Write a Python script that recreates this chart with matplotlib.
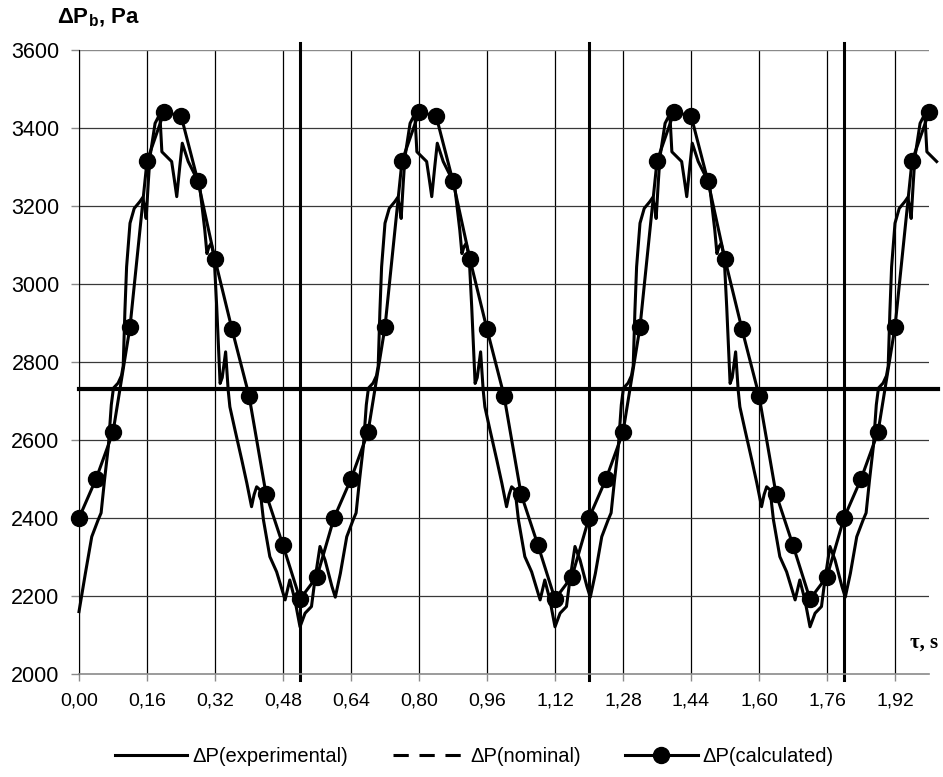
import numpy as np
import matplotlib
matplotlib.use('Agg')
import matplotlib.pyplot as plt
from matplotlib.lines import Line2D

plt.rcParams['font.family'] = ['Liberation Sans', 'DejaVu Sans']
plt.rcParams['mathtext.fontset'] = 'custom'
plt.rcParams['mathtext.bf'] = 'Liberation Sans:bold'
plt.rcParams['mathtext.rm'] = 'Liberation Sans'

# -- calculated pressure drop, one point every 0.04 s
calc_t = np.round(np.arange(51) * 0.04, 2)
calc_p = [2400, 2500, 2620, 2890, 3315, 3440, 3432, 3263, 3063, 2884, 2714, 2462, 2330, 2192, 2250,
          2400, 2500, 2620, 2890, 3315, 3440, 3432, 3263, 3063, 2884, 2714, 2462, 2330, 2192, 2250,
          2400, 2500, 2620, 2890, 3315, 3440, 3432, 3263, 3063, 2884, 2714, 2462, 2330, 2192, 2250,
          2400, 2500, 2620, 2890, 3315, 3440]

# -- experimental trace
exp_t = [0.000,
         0.015, 0.030, 0.045, 0.052, 0.060, 0.069, 0.076, 0.081, 0.092, 0.100, 0.104, 0.108, 0.112, 0.120, 0.130,
         0.143, 0.150, 0.154, 0.158, 0.163, 0.167, 0.179, 0.187, 0.191, 0.195, 0.206, 0.218, 0.224, 0.230, 0.237,
         0.243, 0.257, 0.273, 0.285, 0.296, 0.301, 0.306, 0.311, 0.318, 0.324, 0.332, 0.337, 0.345, 0.351, 0.355,
         0.367, 0.383, 0.395, 0.406, 0.412, 0.418, 0.426, 0.434, 0.449, 0.465, 0.485, 0.496, 0.508, 0.520, 0.532,
         0.547, 0.555, 0.567, 0.579, 0.595, 0.603,
         0.615, 0.630, 0.645, 0.652, 0.660, 0.669, 0.676, 0.681, 0.692, 0.700, 0.704, 0.708, 0.712, 0.720, 0.730,
         0.743, 0.750, 0.754, 0.758, 0.763, 0.767, 0.779, 0.787, 0.791, 0.795, 0.806, 0.818, 0.824, 0.830, 0.837,
         0.843, 0.857, 0.873, 0.885, 0.896, 0.901, 0.906, 0.911, 0.918, 0.924, 0.932, 0.937, 0.945, 0.951, 0.955,
         0.967, 0.983, 0.995, 1.006, 1.012, 1.018, 1.026, 1.034, 1.049, 1.065, 1.085, 1.096, 1.108, 1.120, 1.132,
         1.147, 1.155, 1.167, 1.179, 1.195, 1.203,
         1.215, 1.230, 1.245, 1.252, 1.260, 1.269, 1.276, 1.281, 1.292, 1.300, 1.304, 1.308, 1.312, 1.320, 1.330,
         1.343, 1.350, 1.354, 1.358, 1.363, 1.367, 1.379, 1.387, 1.391, 1.395, 1.406, 1.418, 1.424, 1.430, 1.437,
         1.443, 1.457, 1.473, 1.485, 1.496, 1.501, 1.506, 1.511, 1.518, 1.524, 1.532, 1.537, 1.545, 1.551, 1.555,
         1.567, 1.583, 1.595, 1.606, 1.612, 1.618, 1.626, 1.634, 1.649, 1.665, 1.685, 1.696, 1.708, 1.720, 1.732,
         1.747, 1.755, 1.767, 1.779, 1.795, 1.803,
         1.815, 1.830, 1.845, 1.852, 1.860, 1.869, 1.876, 1.881, 1.892, 1.900, 1.904, 1.908, 1.912, 1.920, 1.930,
         1.943, 1.950, 1.954, 1.958, 1.963, 1.967, 1.979, 1.987, 1.991, 1.995, 2.006, 2.018]
exp_p = [2160,
         2258, 2352, 2395, 2413, 2497, 2583, 2690, 2733, 2746, 2765, 2790, 2930, 3044, 3156, 3194,
         3211, 3222, 3200, 3168, 3260, 3326, 3412, 3429, 3420, 3339, 3327, 3314, 3270, 3224, 3300,
         3361, 3314, 3279, 3241, 3138, 3078, 3096, 3104, 3070, 2942, 2745, 2760, 2826, 2728, 2685,
         2626, 2549, 2489, 2429, 2460, 2480, 2472, 2395, 2301, 2262, 2190, 2241, 2190, 2121, 2156,
         2173, 2241, 2327, 2292, 2225, 2197,
         2258, 2352, 2395, 2413, 2497, 2583, 2690, 2733, 2746, 2765, 2790, 2930, 3044, 3156, 3194,
         3211, 3222, 3200, 3168, 3260, 3326, 3412, 3429, 3420, 3339, 3327, 3314, 3270, 3224, 3300,
         3361, 3314, 3279, 3241, 3138, 3078, 3096, 3104, 3070, 2942, 2745, 2760, 2826, 2728, 2685,
         2626, 2549, 2489, 2429, 2460, 2480, 2472, 2395, 2301, 2262, 2190, 2241, 2190, 2121, 2156,
         2173, 2241, 2327, 2292, 2225, 2197,
         2258, 2352, 2395, 2413, 2497, 2583, 2690, 2733, 2746, 2765, 2790, 2930, 3044, 3156, 3194,
         3211, 3222, 3200, 3168, 3260, 3326, 3412, 3429, 3420, 3339, 3327, 3314, 3270, 3224, 3300,
         3361, 3314, 3279, 3241, 3138, 3078, 3096, 3104, 3070, 2942, 2745, 2760, 2826, 2728, 2685,
         2626, 2549, 2489, 2429, 2460, 2480, 2472, 2395, 2301, 2262, 2190, 2241, 2190, 2121, 2156,
         2173, 2241, 2327, 2292, 2225, 2197,
         2258, 2352, 2395, 2413, 2497, 2583, 2690, 2733, 2746, 2765, 2790, 2930, 3044, 3156, 3194,
         3211, 3222, 3200, 3168, 3260, 3326, 3412, 3429, 3420, 3339, 3327, 3314]

p_nominal = 2730
marks_t = [0.52, 1.20, 1.80]

xticks = np.round(np.arange(13) * 0.16, 2)
xlabels = [('%.2f' % v).replace('.', ',') for v in xticks]
yticks = [2000, 2200, 2400, 2600, 2800, 3000, 3200, 3400, 3600]

fig = plt.figure(figsize=(9.43, 7.77), dpi=100)
ax = fig.add_axes([79/943, 103/777, 850/943, 624/777])
ax.set_xlim(0, 2.0)
ax.set_ylim(2000, 3600)

# -- grid
for t in xticks:
    ax.axvline(t, color='black', lw=0.9, zorder=1)
for p in yticks[1:-1]:
    ax.axhline(p, color='#383838', lw=0.9, zorder=1)
ax.axhline(3600, color='#8a8a8a', lw=1.0, zorder=1)

for s in ['top', 'right']:
    ax.spines[s].set_visible(False)
ax.spines['left'].set_color('black')
ax.spines['bottom'].set_color('#8a8a8a')
ax.spines['bottom'].set_linewidth(1.2)

# -- thick marker lines
ax.plot([0, 2.02], [p_nominal, p_nominal], color='black', lw=3, clip_on=False, zorder=2)
for t in marks_t:
    ax.plot([t, t], [1985, 3618], color='black', lw=2.2, clip_on=False, zorder=2)

ax.plot(exp_t, exp_p, color='black', lw=2.2, clip_on=False, zorder=3)
ax.plot(calc_t, calc_p, 'o-', color='black', lw=2.2, ms=11.5, clip_on=False, zorder=4)

ax.set_xticks(xticks, labels=xlabels)
ax.set_yticks(yticks)
ax.tick_params(axis='x', direction='out', length=5, width=1, color='#8a8a8a', pad=8, labelsize=14)
ax.tick_params(axis='y', direction='out', length=6, width=1, color='#8a8a8a', pad=8, labelsize=15.5)

fig.text(57/943, 1 - 18/777, 'ΔP$_\\mathbf{b}$, Pa', fontweight='bold', fontsize=16, ha='left', va='center')
ax.text(2.021, 2080, 'τ, s', family='Liberation Serif', fontweight='bold', fontsize=15, ha='right', va='center')

handles = [Line2D([], [], color='black', lw=2.2),
           Line2D([], [], color='black', lw=2.2, ls=(0, (5, 3.5))),
           Line2D([], [], color='black', lw=2.2, marker='o', ms=11.5)]
labels = ['ΔP(experimental)', 'ΔP(nominal)', 'ΔP(calculated)']
fig.legend(handles, labels, loc='center', bbox_to_anchor=(0.503, 1 - 757/777), ncol=3, frameon=False,
           fontsize=14.5, handlelength=3.6, handletextpad=0.25, columnspacing=2.2)

fig.savefig('out.png', dpi=100)
